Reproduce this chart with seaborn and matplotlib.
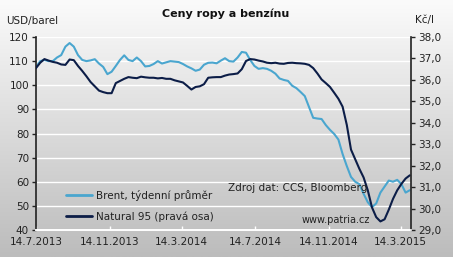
import numpy as np
import pandas as pd
import matplotlib
matplotlib.use("Agg")
import matplotlib.pyplot as plt
import seaborn as sns
from matplotlib.colors import LinearSegmentedColormap
from matplotlib.lines import Line2D

# ---- data (weekly, from 14.7.2013) ----
start_date = "2013-07-14"
brent = [107.5, 110, 110.5, 110, 110, 111.5, 112.5, 116, 117.5, 116,
         112.5, 110.5, 110, 110.3, 110.8, 109, 107.6, 104.6, 105.6, 108,
         110.5, 112.4, 110.5, 110, 111.5, 110, 107.8, 108, 108.8, 110,
         109, 109.5, 110, 109.8, 109.6, 108.8, 107.8, 107, 106, 106.5,
         108.5, 109.3, 109.4, 109.1, 110.2, 111.2, 110, 109.8, 111.5, 113.8,
         113.5, 110.5, 108, 106.8, 107.1, 106.8, 106, 104.8, 102.8, 102.2,
         101.8, 99.8, 98.8, 97.2, 95.5, 91, 86.5, 86.2, 86, 83.5,
         81.5, 79.8, 77.5, 71.5, 66.5, 62, 60, 59, 55, 51.5,
         49.5, 51, 55.5, 58, 60.5, 60, 60.8, 59, 55.5, 56.5]
natural95 = [36.55, 36.8, 36.97, 36.9, 36.84, 36.8, 36.72, 36.7, 36.95, 36.92,
             36.65, 36.42, 36.17, 35.9, 35.7, 35.5, 35.43, 35.38, 35.38, 35.85,
             35.95, 36.05, 36.13, 36.1, 36.08, 36.15, 36.12, 36.1, 36.1, 36.07,
             36.09, 36.05, 36.05, 35.98, 35.93, 35.88, 35.72, 35.55, 35.67, 35.7,
             35.8, 36.1, 36.12, 36.13, 36.13, 36.2, 36.25, 36.27, 36.3, 36.5,
             36.88, 36.97, 36.95, 36.9, 36.86, 36.8, 36.78, 36.8, 36.76, 36.75,
             36.79, 36.8, 36.78, 36.77, 36.75, 36.7, 36.55, 36.3, 36.02, 35.85,
             35.67, 35.4, 35.12, 34.75, 33.9, 32.75, 32.3, 31.85, 31.45, 30.85,
             30.05, 29.6, 29.4, 29.5, 29.95, 30.45, 30.85, 31.15, 31.4, 31.55]
x_tick_dates = ["2013-07-14", "2013-11-14", "2014-03-14",
                "2014-07-14", "2014-11-14", "2015-03-14"]
x_tick_labels = ["14.7.2013", "14.11.2013", "14.3.2014",
                 "14.7.2014", "14.11.2014", "14.3.2015"]
left_ticks = [40, 50, 60, 70, 80, 90, 100, 110, 120]
right_ticks = [29, 30, 31, 32, 33, 34, 35, 36, 37, 38]

dates = pd.date_range(start_date, periods=len(brent), freq="7D")
df = pd.DataFrame({"date": dates, "brent": brent, "natural95": natural95})

sns.set_theme(style="white")
plt.rcParams["font.family"] = ["DejaVu Sans"]

W, H = 453, 257
fig = plt.figure(figsize=(W / 100, H / 100), dpi=100)

# background gradient
bg = fig.add_axes([0, 0, 1, 1], zorder=-10)
grad = np.linspace(0, 1, 256).reshape(-1, 1)
cmap = LinearSegmentedColormap.from_list("g", ["#fbfbfb", "#bcbcbc"])
bg.imshow(grad, aspect="auto", cmap=cmap, extent=[0, 1, 0, 1], origin="upper")
bg.set_axis_off()

L, R, B, T = 36, 411, 230, 37
ax = fig.add_axes([L / W, 1 - B / H, (R - L) / W, (B - T) / H])
ax.patch.set_alpha(0)
ax2 = ax.twinx()
ax2.patch.set_alpha(0)

c_brent = "#4aa6cf"
c_nat = "#0c1d47"

sns.lineplot(data=df, x="date", y="brent", ax=ax, color=c_brent, lw=1.5)
sns.lineplot(data=df, x="date", y="natural95", ax=ax2, color=c_nat, lw=1.5)

x0 = pd.Timestamp("2013-07-14")
x1 = pd.Timestamp("2015-03-31")
ax.set_xlim(x0, x1)
ax.set_ylim(40, 120)
ax2.set_ylim(29, 38)

for g in left_ticks[1:]:
    ax.axhline(g, color="white", lw=1.0, zorder=0)

ax.set_yticks(left_ticks)
ax.set_yticklabels([str(t) for t in left_ticks])
ax2.set_yticks(right_ticks)
ax2.set_yticklabels([f"{t:.1f}".replace(".", ",") for t in right_ticks])

ax.set_xticks(pd.to_datetime(x_tick_dates))
ax.set_xticklabels(x_tick_labels)

ax.set_xlabel("")
ax.set_ylabel("")
ax2.set_xlabel("")
ax2.set_ylabel("")

fs = 7.5
tc = "#222222"
ax.tick_params(axis="y", direction="out", length=3, width=1, color="#222222",
               labelsize=fs, labelcolor=tc, pad=2, left=True)
ax2.tick_params(axis="y", direction="out", length=3, width=1, color="#222222",
                labelsize=fs, labelcolor=tc, pad=2, right=True)
ax.tick_params(axis="x", direction="in", length=3, width=1, color="white",
               labelsize=fs, labelcolor=tc, pad=5, bottom=True)

for a in (ax, ax2):
    a.spines["top"].set_visible(False)
    a.spines["left"].set_color("#222222")
    a.spines["right"].set_color("#222222")
    a.spines["bottom"].set_color("white")
    a.spines["left"].set_linewidth(1.2)
    a.spines["right"].set_linewidth(1.2)
    a.spines["bottom"].set_linewidth(1.2)
ax.spines["right"].set_visible(False)
ax2.spines["left"].set_visible(False)

# legend
handles = [Line2D([], [], color=c_brent, lw=2),
           Line2D([], [], color=c_nat, lw=2)]
leg = ax.legend(handles, ["Brent, týdenní průměr", "Natural 95 (pravá osa)"],
                loc="upper left",
                bbox_to_anchor=((66 - L) / (R - L), 1 - (190 - T) / (B - T)),
                frameon=False, fontsize=fs, handlelength=2.5, handletextpad=0.35,
                labelspacing=1.0, borderaxespad=0, borderpad=0)
for t in leg.get_texts():
    t.set_color(tc)

fig.text(226 / W, 1 - 14 / H, "Ceny ropy a benzínu", ha="center", va="center",
         fontsize=8, fontweight="bold", color="#111111")
fig.text(6 / W, 1 - 21 / H, "USD/barel", ha="left", va="center", fontsize=fs, color=tc)
fig.text(425 / W, 1 - 20 / H, "Kč/l", ha="center", va="center", fontsize=fs, color=tc)
fig.text(228 / W, 1 - 188 / H, "Zdroj dat: CCS, Bloomberg", ha="left", va="center",
         fontsize=fs, color=tc)
fig.text(302 / W, 1 - 220 / H, "www.patria.cz", ha="left", va="center",
         fontsize=7, color=tc)

fig.savefig("out.png", dpi=100)
